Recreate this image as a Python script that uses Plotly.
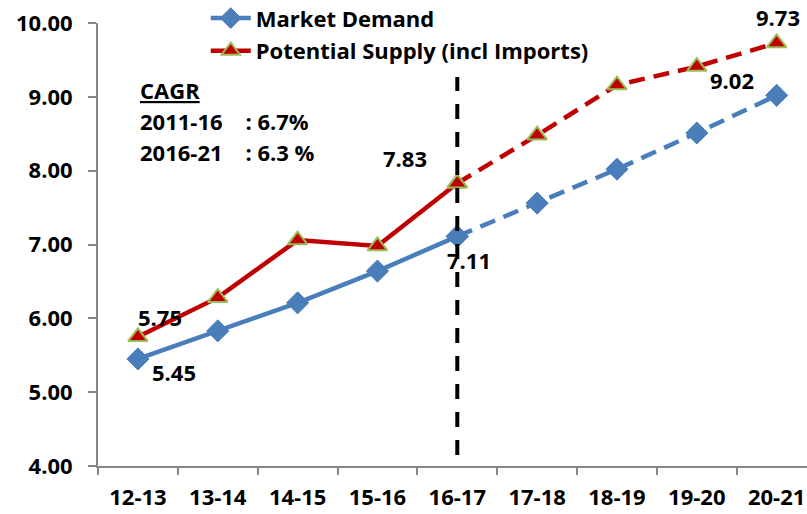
import plotly.graph_objects as go

categories = ["12-13", "13-14", "14-15", "15-16", "16-17", "17-18", "18-19", "19-20", "20-21"]
market_demand = [5.45, 5.83, 6.21, 6.64, 7.11, 7.56, 8.02, 8.51, 9.02]
potential_supply = [5.75, 6.28, 7.06, 6.98, 7.83, 8.48, 9.16, 9.41, 9.73]
y_ticks = [4, 5, 6, 7, 8, 9, 10]
split = 4  # index of 16-17, where actual turns into projection

BLUE = "#4A7EBB"
RED = "#C00000"
GREEN = "#9BBB59"
FONT = "Open Sans"
FS = 22

fig = go.Figure()

def add_series(name, values, color, marker):
    fig.add_trace(go.Scatter(
        x=categories[:split + 1], y=values[:split + 1], name=name, legendgroup=name,
        mode="lines+markers", line=dict(color=color, width=4.5),
        marker=marker, showlegend=True))
    fig.add_trace(go.Scatter(
        x=categories[split:], y=values[split:], name=name, legendgroup=name,
        mode="lines+markers", line=dict(color=color, width=4.5, dash="16px,9px"),
        marker=marker, showlegend=False))

add_series("Market Demand", market_demand, BLUE,
           dict(symbol="diamond", size=17, color=BLUE, line=dict(color=BLUE, width=1)))
add_series("Potential Supply (incl Imports)", potential_supply, RED,
           dict(symbol="triangle-up", size=17, color=RED, line=dict(color=GREEN, width=2)))

# vertical dashed divider at 16-17
fig.add_shape(type="line", xref="x", yref="y", x0=categories[split], x1=categories[split],
              y0=4.15, y1=9.27, line=dict(color="black", width=4, dash="15px,13px"))

lab_font = dict(family=FONT, size=FS, color="black", weight="bold")
labels = [
    (categories[0], potential_supply[0], 5.75, 22, 20),
    (categories[0], market_demand[0], 5.45, 36, -13),
    (categories[4], potential_supply[4], 7.83, -52, 25),
    (categories[4], market_demand[4], 7.11, 12, -24),
    (categories[8], market_demand[8], 9.02, -45, 15),
    (categories[8], potential_supply[8], 9.73, 1, 26),
]
for xc, yv, val, dx, dy in labels:
    fig.add_annotation(x=xc, y=yv, text=f"{val:.2f}", showarrow=False,
                       xshift=dx, yshift=dy, font=lab_font)

cagr_lines = ["<u>CAGR</u>", "2011-16&nbsp;&nbsp;&nbsp;&nbsp;: 6.7%", "2016-21&nbsp;&nbsp;&nbsp;&nbsp;: 6.3 %"]
for i, t in enumerate(cagr_lines):
    fig.add_annotation(xref="paper", yref="paper", x=0.056, y=1 - (67 + 31 * i) / 443,
                       text=t, showarrow=False, xanchor="left", yanchor="middle",
                       font=lab_font)

fig.update_layout(
    width=807, height=514,
    margin=dict(l=98, r=0, t=23, b=48, autoexpand=False),
    plot_bgcolor="white", paper_bgcolor="white",
    font=dict(family=FONT, size=FS, color="black"),
    showlegend=True,
    legend=dict(x=0.152, y=1.058, xanchor="left", yanchor="top",
                font=dict(family=FONT, size=FS, color="black", weight="bold"),
                bgcolor="rgba(0,0,0,0)", traceorder="grouped", tracegroupgap=1,
                itemwidth=40),
    xaxis=dict(type="category", categoryorder="array", categoryarray=categories,
               range=[-0.5, 8.38], showline=True, linecolor="#868686", linewidth=2,
               ticks="outside", ticklen=7, tickcolor="#868686", tickwidth=2,
               tickson="boundaries", showgrid=False, zeroline=False, automargin=False,
               tickfont=dict(family=FONT, size=FS, color="black", weight="bold"),
               ticklabelstandoff=11),
    yaxis=dict(range=[4, 10], tickvals=y_ticks, tickformat=".2f", showline=True,
               linecolor="#868686", linewidth=2, ticks="outside", ticklen=8,
               tickcolor="#868686", tickwidth=2, showgrid=False, zeroline=False,
               automargin=False,
               tickfont=dict(family=FONT, size=FS, color="black", weight="bold"),
               ticklabelstandoff=11),
)

fig.write_html("out.html", config={"displayModeBar": False},
               post_script="document.body.style.margin='0px';")
